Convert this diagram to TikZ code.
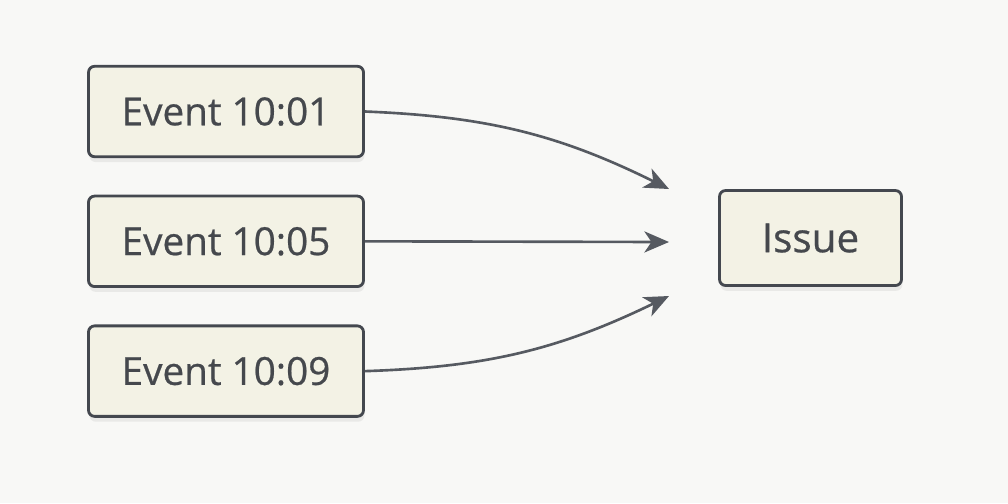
\documentclass[tikz,border=0pt]{standalone}
\usepackage{fontspec}
\setmainfont{Open Sans}
\usetikzlibrary{positioning,arrows.meta,shadows}

\definecolor{paper}{HTML}{F8F8F6}
\definecolor{boxfill}{HTML}{F3F2E5}
\definecolor{boxline}{HTML}{44484F}
\definecolor{arrowline}{HTML}{565A61}
\definecolor{inktext}{HTML}{45484D}

\begin{document}
\begin{tikzpicture}[node distance=0.73cm, >={Stealth[length=14pt,width=12pt,inset=4pt]}]
  \tikzset{
    eventbox/.style={rectangle, draw=boxline, fill=boxfill, line width=1.6pt,
      rounded corners=3.5pt, minimum width=5.5cm, minimum height=1.81cm,
      text=inktext, font=\addfontfeatures{FakeBold=0.6}\fontsize{22}{26}\selectfont,
      drop shadow={opacity=0.12, shadow xshift=0.5pt, shadow yshift=-3pt}},
    link/.style={->, draw=arrowline, line width=1.5pt}
  }
  % background
  \fill[paper] (0,0) rectangle (20.16,-10.06);
  \useasboundingbox (0,0) rectangle (20.16,-10.06);

  % Nodes
  \node[eventbox] (ev1) at (4.52,-2.23) {Event 10:01};
  \node[eventbox, below=of ev1] (ev5) {Event 10:05};
  \node[eventbox, below=of ev5] (ev9) {Event 10:09};
  \node[eventbox, minimum width=3.64cm, minimum height=1.9cm, font=\addfontfeatures{FakeBold=0.6}\fontsize{23}{26}\selectfont] (issue) at (16.21,-4.76) {Issue};

  % arrow ends
  \coordinate (in1) at (13.38,-3.78);
  \coordinate (in5) at (13.38,-4.84);
  \coordinate (in9) at (13.38,-5.92);

  % Arrows
  \draw[link] (ev1.east) to[bend left=12] (in1);
  \draw[link] (ev5.east) -- (in5);
  \draw[link] (ev9.east) to[bend right=12] (in9);
\end{tikzpicture}
\end{document}
